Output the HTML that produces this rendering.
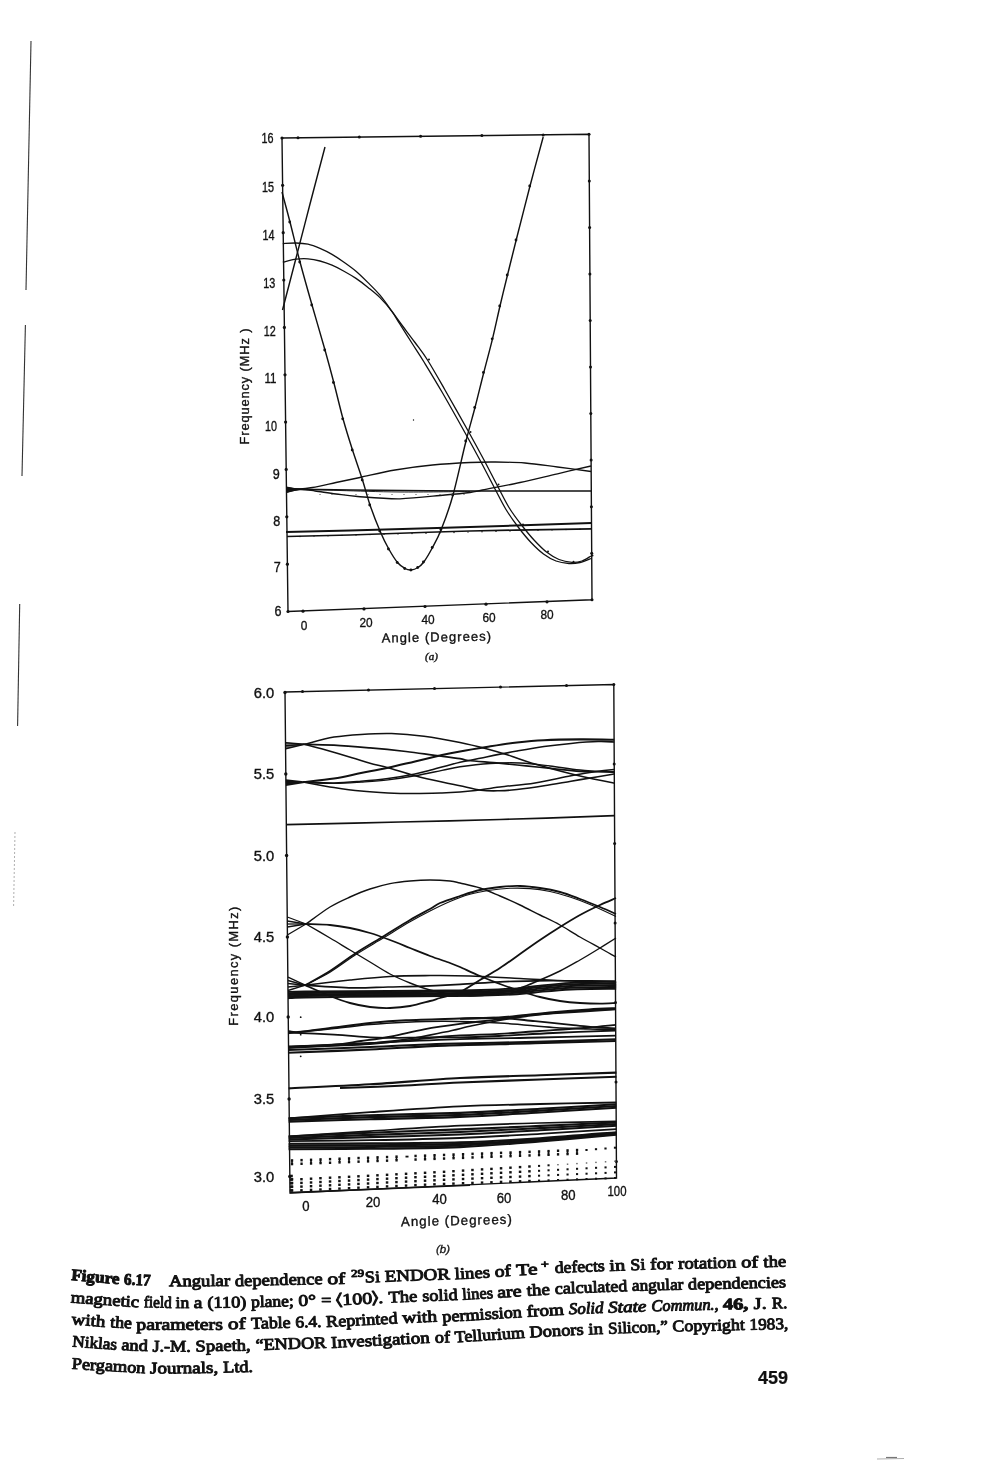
<!DOCTYPE html>
<html><head><meta charset="utf-8"><title>Figure 6.17</title>
<style>
html,body{margin:0;padding:0;background:#fff;}
body{width:1000px;height:1473px;overflow:hidden;}
svg{display:block;filter:grayscale(1) blur(0.3px);}
</style></head><body>
<svg width="1000" height="1473" viewBox="0 0 1000 1473">
<rect width="1000" height="1473" fill="#fff"/>
<line x1="31.0" y1="41.0" x2="26.0" y2="290.0" stroke="#333" stroke-width="1.10" />
<line x1="25.4" y1="325.0" x2="22.0" y2="476.0" stroke="#333" stroke-width="1.10" />
<line x1="19.7" y1="604.0" x2="17.6" y2="726.0" stroke="#333" stroke-width="1.10" />
<line x1="15.0" y1="832.0" x2="13.6" y2="906.0" stroke="#999" stroke-width="0.80" stroke-dasharray="2 2"/>
<line x1="877.0" y1="1459.0" x2="904.0" y2="1458.5" stroke="#999" stroke-width="0.80" />
<line x1="886.0" y1="1457.5" x2="897.0" y2="1457.5" stroke="#777" stroke-width="1.20" />
<polygon points="282.0,138.0 589.0,134.3 592.0,599.8 288.0,611.5" fill="none" stroke="#111" stroke-width="1.4" stroke-linejoin="miter"/>
<circle cx="282.0" cy="138.0" r="1.60" fill="#111"/>
<circle cx="589.0" cy="134.3" r="1.50" fill="#111"/>
<circle cx="282.6" cy="185.3" r="1.60" fill="#111"/>
<circle cx="589.3" cy="180.9" r="1.50" fill="#111"/>
<circle cx="283.2" cy="232.7" r="1.60" fill="#111"/>
<circle cx="589.6" cy="227.4" r="1.50" fill="#111"/>
<circle cx="283.8" cy="280.0" r="1.60" fill="#111"/>
<circle cx="589.9" cy="273.9" r="1.50" fill="#111"/>
<circle cx="284.4" cy="327.4" r="1.60" fill="#111"/>
<circle cx="590.2" cy="320.5" r="1.50" fill="#111"/>
<circle cx="285.0" cy="374.8" r="1.60" fill="#111"/>
<circle cx="590.5" cy="367.0" r="1.50" fill="#111"/>
<circle cx="285.6" cy="422.1" r="1.60" fill="#111"/>
<circle cx="590.8" cy="413.6" r="1.50" fill="#111"/>
<circle cx="286.2" cy="469.4" r="1.60" fill="#111"/>
<circle cx="591.1" cy="460.1" r="1.50" fill="#111"/>
<circle cx="286.8" cy="516.8" r="1.60" fill="#111"/>
<circle cx="591.4" cy="506.7" r="1.50" fill="#111"/>
<circle cx="287.4" cy="564.2" r="1.60" fill="#111"/>
<circle cx="591.7" cy="553.2" r="1.50" fill="#111"/>
<circle cx="288.0" cy="611.5" r="1.60" fill="#111"/>
<circle cx="592.0" cy="599.8" r="1.50" fill="#111"/>
<circle cx="298.0" cy="137.8" r="1.50" fill="#111"/>
<circle cx="303.0" cy="611.2" r="1.60" fill="#111"/>
<circle cx="359.3" cy="137.1" r="1.50" fill="#111"/>
<circle cx="364.0" cy="608.9" r="1.60" fill="#111"/>
<circle cx="420.6" cy="136.3" r="1.50" fill="#111"/>
<circle cx="425.0" cy="606.5" r="1.60" fill="#111"/>
<circle cx="481.9" cy="135.6" r="1.50" fill="#111"/>
<circle cx="486.0" cy="604.2" r="1.60" fill="#111"/>
<circle cx="543.2" cy="134.9" r="1.50" fill="#111"/>
<circle cx="547.0" cy="601.8" r="1.60" fill="#111"/>
<path d="M282.0 192.0C283.3 197.0 287.0 210.3 290.0 222.0C293.0 233.7 296.3 248.2 300.0 262.0C303.7 275.8 307.8 290.3 312.0 305.0C316.2 319.7 321.4 337.1 325.0 350.0C328.6 362.9 330.8 371.0 333.8 382.5C336.8 394.0 339.9 407.5 343.0 418.8C346.1 430.0 349.2 439.8 352.5 450.0C355.8 460.2 359.6 470.8 362.5 480.0C365.4 489.2 367.1 496.5 370.0 505.0C372.9 513.5 376.9 523.7 380.0 531.0C383.1 538.3 385.8 543.8 388.8 549.0C391.7 554.2 394.8 559.2 397.5 562.5C400.2 565.8 402.7 567.2 405.0 568.5C407.3 569.8 409.1 570.2 411.2 570.0C413.4 569.8 415.9 568.8 418.0 567.5C420.1 566.2 421.3 565.3 423.8 562.0C426.2 558.7 429.6 552.9 432.5 547.5C435.4 542.1 437.8 538.2 441.2 529.5C444.7 520.8 448.9 509.8 453.0 495.0C457.1 480.2 462.3 455.6 466.0 441.0C469.7 426.4 472.0 418.9 475.0 407.5C478.0 396.1 480.8 384.0 483.8 372.5C486.7 361.0 489.8 349.8 492.5 338.8C495.2 327.7 497.5 316.6 500.0 306.0C502.5 295.4 504.8 286.0 507.5 275.0C510.2 264.0 512.5 254.8 516.2 240.0C520.0 225.2 525.5 203.2 530.0 186.0C534.5 168.8 541.0 145.2 543.2 137.0" fill="none" stroke="#111" stroke-width="1.43" />
<circle cx="289.7" cy="222.0" r="1.40" fill="#111"/>
<circle cx="299.7" cy="262.0" r="1.40" fill="#111"/>
<circle cx="311.7" cy="305.0" r="1.40" fill="#111"/>
<circle cx="324.7" cy="350.0" r="1.40" fill="#111"/>
<circle cx="333.4" cy="382.5" r="1.40" fill="#111"/>
<circle cx="342.7" cy="418.8" r="1.40" fill="#111"/>
<circle cx="352.2" cy="450.0" r="1.40" fill="#111"/>
<circle cx="362.2" cy="480.0" r="1.40" fill="#111"/>
<circle cx="369.7" cy="505.0" r="1.40" fill="#111"/>
<circle cx="379.7" cy="531.0" r="1.40" fill="#111"/>
<circle cx="388.4" cy="549.0" r="1.40" fill="#111"/>
<circle cx="397.2" cy="562.5" r="1.40" fill="#111"/>
<circle cx="404.7" cy="568.5" r="1.40" fill="#111"/>
<circle cx="410.9" cy="570.0" r="1.40" fill="#111"/>
<circle cx="417.7" cy="567.5" r="1.40" fill="#111"/>
<circle cx="423.4" cy="562.0" r="1.40" fill="#111"/>
<circle cx="432.2" cy="547.5" r="1.40" fill="#111"/>
<circle cx="440.9" cy="529.5" r="1.40" fill="#111"/>
<circle cx="452.7" cy="495.0" r="1.40" fill="#111"/>
<circle cx="465.7" cy="441.0" r="1.40" fill="#111"/>
<circle cx="474.7" cy="407.5" r="1.40" fill="#111"/>
<circle cx="483.4" cy="372.5" r="1.40" fill="#111"/>
<circle cx="492.2" cy="338.8" r="1.40" fill="#111"/>
<circle cx="499.7" cy="306.0" r="1.40" fill="#111"/>
<circle cx="507.2" cy="275.0" r="1.40" fill="#111"/>
<circle cx="516.0" cy="240.0" r="1.40" fill="#111"/>
<circle cx="529.7" cy="186.0" r="1.40" fill="#111"/>
<path d="M282.5 310.0C284.6 302.0 290.4 279.7 295.0 262.0C299.6 244.3 305.0 223.2 310.0 204.0C315.0 184.8 322.5 156.5 325.0 147.0" fill="none" stroke="#111" stroke-width="1.43" />
<path d="M282.8 243.6C285.0 243.5 291.8 242.9 296.0 243.0C300.2 243.1 304.0 243.3 308.0 244.2C312.0 245.1 316.0 246.7 320.0 248.4C324.0 250.1 328.0 252.1 332.0 254.4C336.0 256.7 340.0 259.4 344.0 262.2C348.0 265.0 352.0 267.8 356.0 271.2C360.0 274.6 364.0 278.6 368.0 282.6C372.0 286.6 376.0 290.4 380.0 295.2C384.0 300.0 388.7 306.8 392.0 311.4C395.3 315.9 396.2 317.3 400.0 322.5C403.8 327.7 410.4 336.2 415.0 342.5C419.6 348.8 422.5 352.1 427.5 360.0C432.5 367.9 438.1 377.9 445.0 390.0C451.9 402.1 462.5 420.8 469.0 432.5C475.5 444.2 479.3 451.2 484.0 460.0C488.7 468.8 492.8 477.1 497.0 485.0C501.2 492.9 504.9 500.8 509.0 507.5C513.1 514.2 517.3 519.6 521.5 525.0C525.7 530.4 529.8 535.5 534.0 540.0C538.2 544.5 542.3 548.8 546.5 552.0C550.7 555.2 554.8 557.8 559.0 559.5C563.2 561.2 568.2 562.0 572.0 562.3C575.8 562.5 578.8 562.0 582.0 561.0C585.2 560.0 589.5 556.8 591.0 556.0" fill="none" stroke="#111" stroke-width="1.30" />
<path d="M282.8 262.2C285.0 261.7 291.8 259.8 296.0 259.2C300.2 258.6 304.0 258.5 308.0 258.8C312.0 259.1 316.0 259.9 320.0 261.0C324.0 262.1 328.0 263.5 332.0 265.2C336.0 266.9 340.0 269.0 344.0 271.2C348.0 273.4 352.0 275.7 356.0 278.4C360.0 281.1 364.0 284.2 368.0 287.4C372.0 290.6 376.0 293.6 380.0 297.6C384.0 301.6 388.8 307.3 392.0 311.6C395.2 315.9 396.1 318.1 399.5 323.5C402.9 328.9 408.4 337.6 412.5 344.0C416.6 350.4 419.1 354.0 424.0 362.0C428.9 370.0 435.0 379.9 442.0 392.0C449.0 404.1 459.5 422.8 466.0 434.5C472.5 446.2 476.3 453.2 481.0 462.0C485.7 470.8 489.8 479.1 494.0 487.0C498.2 494.9 501.9 502.8 506.0 509.5C510.1 516.2 514.3 522.0 518.5 527.5C522.7 533.0 526.8 538.1 531.0 542.5C535.2 546.9 539.3 550.9 543.5 554.0C547.7 557.1 551.8 559.4 556.0 561.0C560.2 562.6 565.0 563.2 569.0 563.5C573.0 563.8 576.3 563.3 580.0 562.5C583.7 561.7 589.2 559.2 591.0 558.5" fill="none" stroke="#111" stroke-width="1.30" />
<circle cx="429.0" cy="359.5" r="1.00" fill="#111"/>
<circle cx="470.5" cy="432.0" r="1.00" fill="#111"/>
<circle cx="498.5" cy="484.5" r="1.00" fill="#111"/>
<circle cx="523.0" cy="524.5" r="1.00" fill="#111"/>
<circle cx="548.0" cy="551.5" r="1.00" fill="#111"/>
<circle cx="573.5" cy="561.8" r="1.00" fill="#111"/>
<circle cx="592.5" cy="555.5" r="1.00" fill="#111"/>
<path d="M286.6 488.2C288.8 488.3 295.7 489.1 300.0 489.0C304.3 488.9 306.5 488.6 312.5 487.5C318.5 486.4 328.1 484.2 336.0 482.5C343.9 480.8 350.2 479.6 360.0 477.5C369.8 475.4 382.9 472.1 395.0 470.0C407.1 467.9 420.0 466.2 432.5 465.0C445.0 463.8 459.6 463.0 470.0 462.5C480.4 462.0 485.8 461.9 495.0 462.0C504.2 462.1 514.6 462.2 525.0 463.0C535.4 463.8 546.5 465.6 557.5 467.0C568.5 468.4 585.4 470.8 591.0 471.5" fill="none" stroke="#111" stroke-width="1.30" />
<path d="M286.6 490.3C288.8 490.1 289.4 489.2 300.0 489.2C310.6 489.1 321.7 489.7 350.0 490.0C378.3 490.3 429.8 490.8 470.0 491.0C510.2 491.2 570.8 491.0 591.0 491.0" fill="none" stroke="#111" stroke-width="1.56" />
<path d="M286.6 492.0C288.8 491.6 295.3 489.7 300.0 489.5C304.7 489.3 309.0 490.2 315.0 491.0C321.0 491.8 328.9 493.1 336.0 494.0C343.1 494.9 346.8 495.7 357.5 496.5C368.2 497.3 385.4 499.0 400.0 498.8C414.6 498.5 433.3 496.0 445.0 495.0C456.7 494.0 463.8 493.3 470.0 492.5C476.2 491.7 474.2 491.7 482.5 490.0C490.8 488.3 507.5 485.2 520.0 482.5C532.5 479.8 545.7 476.5 557.5 473.8C569.3 471.0 585.4 467.3 591.0 466.0" fill="none" stroke="#111" stroke-width="1.30" />
<path d="M286.6 487.4C288.8 487.7 291.1 488.5 300.0 489.0C308.9 489.5 323.3 490.0 340.0 490.5C356.7 491.0 378.3 491.8 400.0 492.0C421.7 492.2 458.3 491.6 470.0 491.5" fill="none" stroke="#111" stroke-width="0.91" />
<circle cx="320.0" cy="494.5" r="0.60" fill="#444"/>
<circle cx="332.0" cy="494.5" r="0.60" fill="#444"/>
<circle cx="344.0" cy="494.5" r="0.60" fill="#444"/>
<circle cx="356.0" cy="494.5" r="0.60" fill="#444"/>
<circle cx="368.0" cy="494.5" r="0.60" fill="#444"/>
<circle cx="380.0" cy="494.5" r="0.60" fill="#444"/>
<circle cx="392.0" cy="494.5" r="0.60" fill="#444"/>
<circle cx="404.0" cy="494.5" r="0.60" fill="#444"/>
<circle cx="416.0" cy="494.5" r="0.60" fill="#444"/>
<circle cx="428.0" cy="494.5" r="0.60" fill="#444"/>
<circle cx="440.0" cy="494.5" r="0.60" fill="#444"/>
<circle cx="452.0" cy="494.5" r="0.60" fill="#444"/>
<circle cx="464.0" cy="494.5" r="0.60" fill="#444"/>
<polygon points="286.4,486.6 301,489.2 286.6,493" fill="#111"/>
<path d="M286.0 532.0C296.7 531.8 319.3 531.3 350.0 530.5C380.7 529.7 429.8 528.2 470.0 527.0C510.2 525.8 571.2 523.7 591.5 523.0" fill="none" stroke="#111" stroke-width="1.95" />
<path d="M287.0 536.5C297.5 536.2 319.5 535.9 350.0 535.0C380.5 534.1 429.8 532.0 470.0 531.0C510.2 530.0 571.2 529.2 591.5 528.8" fill="none" stroke="#111" stroke-width="1.69" />
<circle cx="300.0" cy="536.5" r="0.70" fill="#111"/>
<circle cx="314.0" cy="536.1" r="0.70" fill="#111"/>
<circle cx="328.0" cy="535.7" r="0.70" fill="#111"/>
<circle cx="342.0" cy="535.4" r="0.70" fill="#111"/>
<circle cx="356.0" cy="535.0" r="0.70" fill="#111"/>
<circle cx="370.0" cy="534.6" r="0.70" fill="#111"/>
<circle cx="384.0" cy="534.3" r="0.70" fill="#111"/>
<circle cx="398.0" cy="533.9" r="0.70" fill="#111"/>
<circle cx="412.0" cy="533.5" r="0.70" fill="#111"/>
<circle cx="426.0" cy="533.2" r="0.70" fill="#111"/>
<circle cx="440.0" cy="532.8" r="0.70" fill="#111"/>
<circle cx="454.0" cy="532.5" r="0.70" fill="#111"/>
<circle cx="468.0" cy="532.1" r="0.70" fill="#111"/>
<circle cx="482.0" cy="531.7" r="0.70" fill="#111"/>
<circle cx="496.0" cy="531.4" r="0.70" fill="#111"/>
<circle cx="510.0" cy="531.0" r="0.70" fill="#111"/>
<circle cx="524.0" cy="530.6" r="0.70" fill="#111"/>
<circle cx="538.0" cy="530.3" r="0.70" fill="#111"/>
<circle cx="552.0" cy="529.9" r="0.70" fill="#111"/>
<circle cx="566.0" cy="529.5" r="0.70" fill="#111"/>
<circle cx="580.0" cy="529.2" r="0.70" fill="#111"/>
<circle cx="413.5" cy="420.0" r="0.70" fill="#111"/>
<text x="273.4" y="143.1" font-size="14.2" text-anchor="end" font-family="'Liberation Sans', sans-serif" fill="#111" stroke="#111" stroke-width="0.35" textLength="12.0" lengthAdjust="spacingAndGlyphs">16</text>
<text x="274.0" y="192.1" font-size="14.2" text-anchor="end" font-family="'Liberation Sans', sans-serif" fill="#111" stroke="#111" stroke-width="0.35" textLength="12.0" lengthAdjust="spacingAndGlyphs">15</text>
<text x="274.6" y="240.1" font-size="14.2" text-anchor="end" font-family="'Liberation Sans', sans-serif" fill="#111" stroke="#111" stroke-width="0.35" textLength="12.0" lengthAdjust="spacingAndGlyphs">14</text>
<text x="275.2" y="288.1" font-size="14.2" text-anchor="end" font-family="'Liberation Sans', sans-serif" fill="#111" stroke="#111" stroke-width="0.35" textLength="12.0" lengthAdjust="spacingAndGlyphs">13</text>
<text x="275.8" y="335.6" font-size="14.2" text-anchor="end" font-family="'Liberation Sans', sans-serif" fill="#111" stroke="#111" stroke-width="0.35" textLength="12.0" lengthAdjust="spacingAndGlyphs">12</text>
<text x="276.4" y="383.1" font-size="14.2" text-anchor="end" font-family="'Liberation Sans', sans-serif" fill="#111" stroke="#111" stroke-width="0.35" textLength="12.0" lengthAdjust="spacingAndGlyphs">11</text>
<text x="277.0" y="431.1" font-size="14.2" text-anchor="end" font-family="'Liberation Sans', sans-serif" fill="#111" stroke="#111" stroke-width="0.35" textLength="12.0" lengthAdjust="spacingAndGlyphs">10</text>
<text x="279.7" y="479.1" font-size="14.2" text-anchor="end" font-family="'Liberation Sans', sans-serif" fill="#111" stroke="#111" stroke-width="0.35" textLength="7.0" lengthAdjust="spacingAndGlyphs">9</text>
<text x="280.2" y="525.8" font-size="14.2" text-anchor="end" font-family="'Liberation Sans', sans-serif" fill="#111" stroke="#111" stroke-width="0.35" textLength="7.0" lengthAdjust="spacingAndGlyphs">8</text>
<text x="280.8" y="571.7" font-size="14.2" text-anchor="end" font-family="'Liberation Sans', sans-serif" fill="#111" stroke="#111" stroke-width="0.35" textLength="7.0" lengthAdjust="spacingAndGlyphs">7</text>
<text x="281.4" y="616.1" font-size="14.2" text-anchor="end" font-family="'Liberation Sans', sans-serif" fill="#111" stroke="#111" stroke-width="0.35" textLength="7.0" lengthAdjust="spacingAndGlyphs">6</text>
<text x="304.0" y="630.0" font-size="13.5" text-anchor="middle" font-family="'Liberation Sans', sans-serif" fill="#111" stroke="#111" stroke-width="0.35" textLength="6.6" lengthAdjust="spacingAndGlyphs">0</text>
<text x="366.0" y="626.5" font-size="13.5" text-anchor="middle" font-family="'Liberation Sans', sans-serif" fill="#111" stroke="#111" stroke-width="0.35" textLength="13.2" lengthAdjust="spacingAndGlyphs">20</text>
<text x="428.0" y="624.0" font-size="13.5" text-anchor="middle" font-family="'Liberation Sans', sans-serif" fill="#111" stroke="#111" stroke-width="0.35" textLength="13.2" lengthAdjust="spacingAndGlyphs">40</text>
<text x="489.0" y="621.5" font-size="13.5" text-anchor="middle" font-family="'Liberation Sans', sans-serif" fill="#111" stroke="#111" stroke-width="0.35" textLength="13.2" lengthAdjust="spacingAndGlyphs">60</text>
<text x="547.0" y="619.0" font-size="13.5" text-anchor="middle" font-family="'Liberation Sans', sans-serif" fill="#111" stroke="#111" stroke-width="0.35" textLength="13.2" lengthAdjust="spacingAndGlyphs">80</text>
<text x="0.0" y="0.0" font-size="12.8" text-anchor="middle" font-family="'Liberation Sans', sans-serif" fill="#111" stroke="#111" stroke-width="0.35" transform="translate(249,386) rotate(-90)" letter-spacing="0.9">Frequency (MHz )</text>
<text x="437.0" y="641.5" font-size="13.0" text-anchor="middle" font-family="'Liberation Sans', sans-serif" fill="#111" stroke="#111" stroke-width="0.35" transform="rotate(-1 437 640)" letter-spacing="1.05">Angle (Degrees)</text>
<text x="431.5" y="659.5" font-size="11.0" text-anchor="middle" font-family="'Liberation Serif', serif" fill="#111" stroke="#111" stroke-width="0.40" font-style="italic">(a)</text>
<polygon points="285.0,692.0 613.8,684.5 616.5,1178.0 290.0,1193.0" fill="none" stroke="#111" stroke-width="1.4" stroke-linejoin="miter"/>
<circle cx="285.0" cy="692.5" r="1.70" fill="#111"/>
<circle cx="613.8" cy="684.5" r="1.50" fill="#111"/>
<circle cx="285.8" cy="774.0" r="1.70" fill="#111"/>
<circle cx="614.2" cy="764.0" r="1.50" fill="#111"/>
<circle cx="286.6" cy="855.5" r="1.70" fill="#111"/>
<circle cx="614.6" cy="843.5" r="1.50" fill="#111"/>
<circle cx="287.4" cy="937.0" r="1.70" fill="#111"/>
<circle cx="615.1" cy="923.0" r="1.50" fill="#111"/>
<circle cx="288.2" cy="1017.0" r="1.70" fill="#111"/>
<circle cx="615.5" cy="1002.5" r="1.50" fill="#111"/>
<circle cx="289.1" cy="1099.0" r="1.70" fill="#111"/>
<circle cx="616.0" cy="1082.0" r="1.50" fill="#111"/>
<circle cx="289.8" cy="1176.5" r="1.70" fill="#111"/>
<circle cx="616.4" cy="1161.5" r="1.50" fill="#111"/>
<circle cx="302.5" cy="691.6" r="1.50" fill="#111"/>
<circle cx="368.5" cy="690.1" r="1.50" fill="#111"/>
<circle cx="434.5" cy="688.6" r="1.50" fill="#111"/>
<circle cx="500.5" cy="687.1" r="1.50" fill="#111"/>
<circle cx="566.5" cy="685.6" r="1.50" fill="#111"/>
<polygon points="285.7,742.3 304.3,744.3 285.8,748.8" fill="#111" opacity="0.55"/>
<line x1="285.7" y1="742.8" x2="304.3" y2="744.3" stroke="#111" stroke-width="1.40" />
<line x1="285.7" y1="745.8" x2="304.3" y2="744.3" stroke="#111" stroke-width="1.40" />
<line x1="285.7" y1="748.8" x2="304.3" y2="744.3" stroke="#111" stroke-width="1.40" />
<polygon points="285.8,779.2 306,781.6 306,782.8 285.9,786" fill="#111"/>
<path d="M304.3 744.3C309.2 743.1 324.6 738.8 334.0 737.1C343.4 735.5 351.4 735.0 361.0 734.4C370.6 733.8 381.1 733.2 391.6 733.5C402.1 733.8 412.6 734.7 424.0 736.2C435.4 737.7 449.6 740.4 460.0 742.5C470.4 744.6 478.4 746.7 486.4 748.8C494.4 750.9 499.9 752.5 508.0 755.1C516.1 757.7 526.0 761.4 535.0 764.1C544.0 766.8 553.0 769.2 562.0 771.5C571.0 773.8 580.3 776.1 589.0 778.0C597.7 779.9 610.0 782.2 614.2 783.0" fill="none" stroke="#111" stroke-width="1.54" />
<path d="M304.3 744.3C309.2 744.4 323.1 744.6 334.0 745.2C344.9 745.8 358.0 746.9 370.0 747.9C382.0 748.9 395.5 750.3 406.0 751.5C416.5 752.7 424.0 753.9 433.0 755.1C442.0 756.3 454.1 757.8 460.0 758.7C465.9 759.6 461.9 759.8 468.4 760.5C474.9 761.2 489.4 762.3 499.0 763.2C508.6 764.1 517.0 765.0 526.0 765.9C535.0 766.8 544.0 767.7 553.0 768.6C562.0 769.5 569.8 770.8 580.0 771.3C590.2 771.8 608.5 771.7 614.2 771.8" fill="none" stroke="#111" stroke-width="1.68" />
<path d="M304.3 744.3C307.8 745.2 317.1 747.5 325.0 749.7C332.9 752.0 344.5 755.5 352.0 757.8C359.5 760.0 364.0 761.6 370.0 763.2C376.0 764.9 380.5 765.6 388.0 767.7C395.5 769.8 406.0 773.4 415.0 775.8C424.0 778.2 434.5 780.5 442.0 782.1C449.5 783.8 453.5 784.4 460.0 785.7C466.5 787.1 474.5 789.4 481.0 790.2C487.5 791.1 493.0 790.9 499.0 790.8C505.0 790.7 509.5 790.4 517.0 789.5C524.5 788.6 535.0 787.1 544.0 785.7C553.0 784.3 562.0 782.7 571.0 781.2C580.0 779.7 590.8 777.9 598.0 776.7C605.2 775.5 611.5 774.5 614.2 774.0" fill="none" stroke="#111" stroke-width="1.54" />
<path d="M303.4 782.1C308.5 781.5 324.4 780.0 334.0 778.5C343.6 777.0 352.0 774.9 361.0 773.1C370.0 771.3 379.0 769.7 388.0 767.7C397.0 765.8 406.0 763.5 415.0 761.4C424.0 759.3 434.5 756.8 442.0 755.1C449.5 753.5 452.6 752.9 460.0 751.5C467.4 750.1 476.9 748.5 486.4 747.0C495.9 745.5 507.4 743.6 517.0 742.5C526.6 741.4 533.5 740.7 544.0 740.2C554.5 739.7 568.3 739.5 580.0 739.4C591.7 739.3 608.5 739.7 614.2 739.8" fill="none" stroke="#111" stroke-width="2.06" />
<path d="M303.4 782.1C308.5 782.2 324.4 783.1 334.0 783.0C343.6 782.9 352.0 782.0 361.0 781.2C370.0 780.5 379.0 779.7 388.0 778.5C397.0 777.3 407.5 775.5 415.0 774.0C422.5 772.5 425.5 771.5 433.0 769.5C440.5 767.5 451.1 764.4 460.0 762.3C468.9 760.2 476.9 758.8 486.4 756.9C495.9 755.0 507.4 752.7 517.0 751.0C526.6 749.3 535.0 747.8 544.0 746.5C553.0 745.2 562.0 744.2 571.0 743.4C580.0 742.6 590.8 741.8 598.0 741.6C605.2 741.4 611.5 741.9 614.2 742.0" fill="none" stroke="#111" stroke-width="1.54" />
<path d="M303.4 782.1C308.5 782.3 324.4 783.4 334.0 783.4C343.6 783.4 352.0 782.7 361.0 782.1C370.0 781.5 379.0 781.0 388.0 779.9C397.0 778.8 406.0 777.4 415.0 775.8C424.0 774.2 434.5 771.9 442.0 770.4C449.5 768.9 452.0 767.9 460.0 766.8C468.0 765.6 480.0 764.1 490.0 763.5C500.0 762.9 510.0 762.6 520.0 763.0C530.0 763.4 540.0 764.8 550.0 766.0C560.0 767.2 569.3 768.9 580.0 770.0C590.7 771.1 608.5 772.1 614.2 772.5" fill="none" stroke="#111" stroke-width="1.40" />
<path d="M303.4 782.1C308.5 783.0 324.4 786.0 334.0 787.5C343.6 789.0 352.0 790.2 361.0 791.1C370.0 792.0 379.0 792.5 388.0 792.9C397.0 793.3 406.0 793.4 415.0 793.4C424.0 793.4 434.5 793.1 442.0 792.9C449.5 792.7 454.4 792.4 460.0 792.0C465.6 791.6 468.9 791.3 475.6 790.5C482.3 789.7 490.1 788.2 500.0 787.0C509.9 785.8 523.2 784.9 535.0 783.0C546.8 781.1 560.5 777.8 571.0 775.8C581.5 773.8 590.8 772.3 598.0 771.3C605.2 770.2 611.5 769.8 614.2 769.5" fill="none" stroke="#111" stroke-width="1.54" />
<path d="M286.0 824.6C305.0 824.2 364.3 822.9 400.0 822.0C435.7 821.1 464.2 820.5 500.0 819.5C535.8 818.5 595.4 816.3 614.5 815.7" fill="none" stroke="#111" stroke-width="1.68" />
<line x1="287.3" y1="917.0" x2="306.0" y2="924.0" stroke="#111" stroke-width="1.30" />
<line x1="287.3" y1="921.0" x2="306.0" y2="924.0" stroke="#111" stroke-width="1.30" />
<line x1="287.3" y1="924.0" x2="306.0" y2="924.0" stroke="#111" stroke-width="1.30" />
<line x1="287.3" y1="927.0" x2="306.0" y2="924.0" stroke="#111" stroke-width="1.30" />
<line x1="287.3" y1="935.0" x2="306.0" y2="924.0" stroke="#111" stroke-width="1.30" />
<line x1="288.0" y1="977.1" x2="305.2" y2="985.2" stroke="#111" stroke-width="1.40" />
<line x1="288.0" y1="980.5" x2="305.2" y2="985.2" stroke="#111" stroke-width="1.40" />
<line x1="288.0" y1="983.5" x2="305.2" y2="985.2" stroke="#111" stroke-width="1.40" />
<line x1="288.0" y1="987.0" x2="305.2" y2="985.2" stroke="#111" stroke-width="1.40" />
<line x1="288.0" y1="990.5" x2="305.2" y2="985.2" stroke="#111" stroke-width="1.40" />
<path d="M306.0 924.0C310.0 921.2 322.7 911.5 330.0 907.0C337.3 902.5 343.3 900.0 350.0 897.0C356.7 894.0 363.3 891.2 370.0 889.0C376.7 886.8 383.3 884.9 390.0 883.6C396.7 882.3 403.3 881.6 410.0 881.0C416.7 880.4 423.3 880.0 430.0 880.0C436.7 880.0 445.0 880.5 450.0 881.0C455.0 881.5 455.0 881.8 460.0 883.0C465.0 884.2 473.3 885.8 480.0 888.0C486.7 890.2 493.3 893.2 500.0 896.0C506.7 898.8 513.3 901.8 520.0 905.0C526.7 908.2 533.3 911.7 540.0 915.0C546.7 918.3 553.3 921.3 560.0 925.0C566.7 928.7 573.3 933.2 580.0 937.0C586.7 940.8 594.0 944.7 600.0 948.0C606.0 951.3 613.3 955.5 616.0 957.0" fill="none" stroke="#111" stroke-width="1.40" />
<path d="M306.0 924.0C310.0 924.2 322.7 924.3 330.0 925.0C337.3 925.7 343.3 926.7 350.0 928.0C356.7 929.3 363.3 931.0 370.0 933.0C376.7 935.0 383.3 937.5 390.0 940.0C396.7 942.5 403.3 945.3 410.0 948.0C416.7 950.7 423.3 953.5 430.0 956.0C436.7 958.5 445.0 961.2 450.0 963.0C455.0 964.8 455.0 964.8 460.0 967.0C465.0 969.2 473.3 973.2 480.0 976.0C486.7 978.8 493.3 981.5 500.0 984.0C506.7 986.5 513.3 988.8 520.0 991.0C526.7 993.2 533.3 995.3 540.0 997.0C546.7 998.7 553.3 1000.0 560.0 1001.0C566.7 1002.0 573.3 1002.6 580.0 1003.0C586.7 1003.4 594.0 1003.6 600.0 1003.6C606.0 1003.6 613.3 1003.1 616.0 1003.0" fill="none" stroke="#111" stroke-width="1.82" />
<path d="M306.0 924.0C310.0 926.3 322.7 933.7 330.0 938.0C337.3 942.3 343.3 946.0 350.0 950.0C356.7 954.0 363.3 958.0 370.0 962.0C376.7 966.0 383.3 970.5 390.0 974.0C396.7 977.5 403.3 980.3 410.0 983.0C416.7 985.7 423.3 988.2 430.0 990.0C436.7 991.8 443.3 993.0 450.0 994.0C456.7 995.0 462.5 996.0 470.0 996.0C477.5 996.0 486.7 995.3 495.0 994.0C503.3 992.7 512.5 990.3 520.0 988.0C527.5 985.7 533.3 982.8 540.0 980.0C546.7 977.2 553.3 974.3 560.0 971.0C566.7 967.7 573.3 963.8 580.0 960.0C586.7 956.2 594.0 951.7 600.0 948.0C606.0 944.3 613.3 939.7 616.0 938.0" fill="none" stroke="#111" stroke-width="1.40" />
<path d="M305.2 985.2C309.3 982.8 321.5 976.4 330.0 971.0C338.5 965.6 347.0 958.8 356.0 953.0C365.0 947.2 375.0 941.5 384.0 936.0C393.0 930.5 402.3 924.5 410.0 920.0C417.7 915.5 425.0 911.8 430.0 909.0C435.0 906.2 435.0 905.2 440.0 903.0C445.0 900.8 453.3 898.2 460.0 896.0C466.7 893.8 473.3 891.5 480.0 890.0C486.7 888.5 493.3 887.7 500.0 887.0C506.7 886.3 513.3 885.8 520.0 886.0C526.7 886.2 533.3 887.0 540.0 888.0C546.7 889.0 553.3 890.2 560.0 892.0C566.7 893.8 573.3 896.5 580.0 899.0C586.7 901.5 594.0 904.5 600.0 907.0C606.0 909.5 613.3 912.8 616.0 914.0" fill="none" stroke="#111" stroke-width="1.82" />
<path d="M305.2 985.2C309.3 983.0 321.5 977.3 330.0 972.2C338.5 967.1 347.0 960.3 356.0 954.5C365.0 948.7 375.0 943.1 384.0 937.6C393.0 932.1 402.3 926.2 410.0 921.8C417.7 917.4 423.3 914.4 430.0 911.0C436.7 907.6 443.3 904.3 450.0 901.5C456.7 898.7 463.3 896.2 470.0 894.3C476.7 892.4 483.3 891.3 490.0 890.3C496.7 889.3 503.3 888.6 510.0 888.3C516.7 888.0 523.3 888.1 530.0 888.6C536.7 889.1 543.3 890.1 550.0 891.5C556.7 892.9 563.3 894.8 570.0 897.0C576.7 899.2 582.3 901.2 590.0 904.5C597.7 907.8 611.7 914.5 616.0 916.5" fill="none" stroke="#111" stroke-width="1.12" />
<path d="M305.2 985.2C309.3 987.0 322.5 993.0 330.0 996.0C337.5 999.0 343.3 1001.2 350.0 1003.0C356.7 1004.8 363.3 1006.2 370.0 1007.0C376.7 1007.8 383.3 1008.2 390.0 1008.0C396.7 1007.8 403.3 1007.2 410.0 1006.0C416.7 1004.8 425.0 1002.3 430.0 1001.0C435.0 999.7 435.0 999.5 440.0 998.0C445.0 996.5 453.3 995.0 460.0 992.0C466.7 989.0 473.3 984.0 480.0 980.0C486.7 976.0 493.3 972.3 500.0 968.0C506.7 963.7 513.3 958.7 520.0 954.0C526.7 949.3 533.3 944.5 540.0 940.0C546.7 935.5 553.3 931.2 560.0 927.0C566.7 922.8 573.3 918.7 580.0 915.0C586.7 911.3 594.0 907.8 600.0 905.0C606.0 902.2 613.3 899.2 616.0 898.0" fill="none" stroke="#111" stroke-width="1.82" />
<path d="M305.2 985.2C312.7 984.3 335.9 981.5 350.0 980.0C364.1 978.5 376.7 977.1 390.0 976.4C403.3 975.7 416.7 975.7 430.0 975.6C443.3 975.5 455.0 975.5 470.0 976.0C485.0 976.5 503.3 977.7 520.0 978.5C536.7 979.3 554.0 980.4 570.0 981.0C586.0 981.6 608.3 981.8 616.0 982.0" fill="none" stroke="#111" stroke-width="1.54" />
<path d="M305.2 985.2C313.0 985.7 338.2 987.6 352.0 987.9C365.8 988.2 376.0 987.3 388.0 987.0C400.0 986.7 412.0 986.6 424.0 986.1C436.0 985.6 447.3 985.0 460.0 984.3C472.7 983.6 487.5 982.4 500.0 981.8C512.5 981.2 521.7 981.0 535.0 980.8C548.3 980.6 566.5 980.8 580.0 980.8C593.5 980.8 610.0 981.0 616.0 981.0" fill="none" stroke="#111" stroke-width="1.68" />
<path d="M288.0 992.0C290.8 991.9 288.3 991.7 305.0 991.5C321.7 991.4 364.7 991.1 388.0 991.0C411.3 990.8 429.5 990.6 445.0 990.5C460.5 990.3 469.0 990.3 481.0 990.0C493.0 989.6 508.0 989.0 517.0 988.3C526.0 987.7 526.0 987.1 535.0 986.2C544.0 985.3 557.5 983.6 571.0 982.9C584.5 982.1 608.7 982.0 616.2 981.8" fill="none" stroke="#111" stroke-width="1.82" />
<path d="M288.0 993.4C290.8 993.3 288.3 993.1 305.0 992.9C321.7 992.7 364.7 992.4 388.0 992.2C411.3 992.0 429.5 991.9 445.0 991.7C460.5 991.6 469.0 991.6 481.0 991.2C493.0 990.9 508.0 990.3 517.0 989.7C526.0 989.1 526.0 988.5 535.0 987.6C544.0 986.7 557.5 985.0 571.0 984.3C584.5 983.6 608.7 983.5 616.2 983.4" fill="none" stroke="#111" stroke-width="2.06" />
<path d="M288.0 995.0C290.8 994.9 288.3 994.6 305.0 994.4C321.7 994.2 364.7 993.9 388.0 993.7C411.3 993.5 429.5 993.3 445.0 993.2C460.5 993.0 469.0 993.0 481.0 992.7C493.0 992.3 508.0 991.8 517.0 991.2C526.0 990.6 526.0 990.1 535.0 989.2C544.0 988.3 557.5 986.7 571.0 986.0C584.5 985.3 608.7 985.3 616.2 985.1" fill="none" stroke="#111" stroke-width="2.06" />
<path d="M288.0 996.6C290.8 996.5 288.3 996.1 305.0 995.9C321.7 995.6 364.7 995.3 388.0 995.1C411.3 994.9 429.5 994.8 445.0 994.6C460.5 994.4 469.0 994.4 481.0 994.1C493.0 993.8 508.0 993.2 517.0 992.7C526.0 992.1 526.0 991.6 535.0 990.8C544.0 990.0 557.5 988.4 571.0 987.7C584.5 987.1 608.7 987.0 616.2 986.9" fill="none" stroke="#111" stroke-width="2.06" />
<path d="M288.0 998.2C290.8 998.1 288.3 997.7 305.0 997.4C321.7 997.1 364.7 996.8 388.0 996.5C411.3 996.3 429.5 996.2 445.0 996.0C460.5 995.9 469.0 995.8 481.0 995.5C493.0 995.2 508.0 994.7 517.0 994.2C526.0 993.7 526.0 993.2 535.0 992.4C544.0 991.6 557.5 990.0 571.0 989.4C584.5 988.8 608.7 988.8 616.2 988.7" fill="none" stroke="#111" stroke-width="1.96" />
<polygon points="288.2,1030.2 300,1032 288.3,1034.2" fill="#111"/>
<path d="M288.0 1031.5C289.7 1031.6 290.3 1032.7 298.0 1032.0C305.7 1031.3 322.0 1029.0 334.0 1027.5C346.0 1026.0 358.0 1024.2 370.0 1023.0C382.0 1021.8 391.0 1021.0 406.0 1020.3C421.0 1019.5 444.5 1019.0 460.0 1018.5C475.5 1018.0 488.0 1018.2 499.0 1017.6C510.0 1017.0 517.0 1015.9 526.0 1015.0C535.0 1014.1 542.5 1013.1 553.0 1012.2C563.5 1011.3 578.5 1010.2 589.0 1009.5C599.5 1008.8 611.5 1008.4 616.0 1008.2" fill="none" stroke="#111" stroke-width="2.06" />
<path d="M298.0 1032.0C304.0 1031.4 322.0 1029.8 334.0 1028.6C346.0 1027.4 358.0 1025.7 370.0 1024.6C382.0 1023.5 393.5 1022.8 406.0 1022.2C418.5 1021.6 429.5 1021.1 445.0 1021.2C460.5 1021.3 481.0 1022.0 499.0 1023.0C517.0 1024.0 538.0 1026.5 553.0 1027.5C568.0 1028.5 578.5 1028.7 589.0 1029.0C599.5 1029.3 611.5 1029.2 616.0 1029.3" fill="none" stroke="#111" stroke-width="1.54" />
<path d="M288.0 1032.5C295.7 1032.9 320.3 1033.9 334.0 1034.7C347.7 1035.5 360.4 1036.9 370.0 1037.4C379.6 1037.9 382.6 1037.8 391.6 1037.8C400.6 1037.8 412.6 1037.5 424.0 1037.4C435.4 1037.3 447.5 1037.6 460.0 1037.4C472.5 1037.2 483.5 1036.7 499.0 1036.0C514.5 1035.3 533.5 1033.9 553.0 1033.0C572.5 1032.1 605.5 1030.9 616.0 1030.5" fill="none" stroke="#111" stroke-width="1.82" />
<path d="M288.0 1046.4C295.7 1046.1 321.8 1045.5 334.0 1044.6C346.2 1043.7 351.4 1042.3 361.0 1041.0C370.6 1039.7 381.1 1038.5 391.6 1036.5C402.1 1034.5 412.6 1031.4 424.0 1029.3C435.4 1027.2 447.5 1025.5 460.0 1023.9C472.5 1022.2 488.0 1020.8 499.0 1019.4C510.0 1018.0 517.0 1016.7 526.0 1015.6C535.0 1014.5 542.5 1013.9 553.0 1013.0C563.5 1012.1 578.5 1011.1 589.0 1010.4C599.5 1009.7 611.5 1009.2 616.0 1009.0" fill="none" stroke="#111" stroke-width="1.82" />
<path d="M288.0 1048.2C298.7 1047.6 332.3 1046.1 352.0 1044.6C371.7 1043.1 390.5 1041.3 406.0 1039.2C421.5 1037.1 434.0 1034.2 445.0 1032.0C456.0 1029.8 463.0 1027.6 472.0 1025.7C481.0 1023.8 490.0 1022.0 499.0 1020.4C508.0 1018.8 517.0 1017.5 526.0 1016.4C535.0 1015.3 538.0 1014.7 553.0 1013.6C568.0 1012.5 605.5 1010.3 616.0 1009.6" fill="none" stroke="#111" stroke-width="1.54" />
<path d="M460.0 1018.8C466.5 1018.6 486.5 1017.4 499.0 1017.8C511.5 1018.2 523.0 1020.0 535.0 1021.2C547.0 1022.4 560.5 1023.8 571.0 1024.8C581.5 1025.8 590.5 1026.9 598.0 1027.5C605.5 1028.1 613.0 1028.2 616.0 1028.4" fill="none" stroke="#111" stroke-width="1.82" />
<path d="M288.0 1047.0C301.7 1046.5 343.8 1045.8 370.0 1044.0C396.2 1042.2 423.5 1038.2 445.0 1036.5C466.5 1034.8 481.0 1034.8 499.0 1033.8C517.0 1032.8 538.0 1031.2 553.0 1030.2C568.0 1029.2 578.5 1028.4 589.0 1027.5C599.5 1026.6 611.5 1025.2 616.0 1024.8" fill="none" stroke="#111" stroke-width="1.82" />
<path d="M288.0 1046.8C301.7 1046.2 341.3 1044.3 370.0 1043.0C398.7 1041.7 431.7 1040.1 460.0 1039.2C488.3 1038.3 514.0 1038.1 540.0 1037.5C566.0 1036.9 603.3 1035.9 616.0 1035.6" fill="none" stroke="#111" stroke-width="1.82" />
<path d="M288.0 1050.0C301.7 1049.5 343.8 1048.0 370.0 1047.0C396.2 1046.0 417.5 1044.5 445.0 1043.7C472.5 1042.9 506.5 1042.7 535.0 1041.9C563.5 1041.2 602.5 1039.7 616.0 1039.2" fill="none" stroke="#111" stroke-width="2.06" />
<path d="M288.0 1052.7C301.7 1052.2 343.8 1050.7 370.0 1049.5C396.2 1048.3 417.5 1046.6 445.0 1045.6C472.5 1044.6 506.5 1044.1 535.0 1043.3C563.5 1042.5 602.5 1041.4 616.0 1041.0" fill="none" stroke="#111" stroke-width="2.10" />
<circle cx="300.7" cy="1017.2" r="0.90" fill="#111"/>
<circle cx="300.7" cy="1034.7" r="0.90" fill="#111"/>
<circle cx="300.7" cy="1056.3" r="0.90" fill="#111"/>
<path d="M288.6 1088.4C302.2 1087.7 341.4 1086.0 370.0 1084.3C398.6 1082.6 431.7 1079.5 460.0 1078.0C488.3 1076.5 513.9 1076.2 540.0 1075.3C566.1 1074.4 603.7 1073.0 616.4 1072.6" fill="none" stroke="#111" stroke-width="2.06" />
<path d="M340.0 1088.0C350.0 1087.6 380.0 1086.7 400.0 1085.8C420.0 1084.9 436.7 1083.5 460.0 1082.5C483.3 1081.5 513.9 1080.5 540.0 1079.5C566.1 1078.5 603.7 1077.2 616.4 1076.8" fill="none" stroke="#111" stroke-width="2.10" />
<path d="M288.6 1118.3C302.2 1117.3 341.4 1114.2 370.0 1112.2C398.6 1110.2 431.7 1107.8 460.0 1106.4C488.3 1105.0 513.9 1104.7 540.0 1104.0C566.1 1103.3 603.7 1102.8 616.4 1102.5" fill="none" stroke="#111" stroke-width="1.82" />
<path d="M288.6 1118.2C302.2 1117.7 341.4 1116.1 370.0 1115.2C398.6 1114.3 431.7 1113.9 460.0 1112.9C488.3 1111.8 513.9 1110.2 540.0 1108.7C566.1 1107.3 603.7 1105.0 616.4 1104.3" fill="none" stroke="#111" stroke-width="2.06" />
<path d="M288.6 1119.9C302.2 1119.5 341.4 1118.0 370.0 1117.2C398.6 1116.4 431.7 1116.0 460.0 1114.9C488.3 1113.8 513.9 1112.1 540.0 1110.6C566.1 1109.1 603.7 1106.8 616.4 1106.0" fill="none" stroke="#111" stroke-width="2.21" />
<path d="M288.6 1121.6C302.2 1121.2 341.4 1120.0 370.0 1119.2C398.6 1118.5 431.7 1118.1 460.0 1116.9C488.3 1115.8 513.9 1114.0 540.0 1112.5C566.1 1110.9 603.7 1108.5 616.4 1107.7" fill="none" stroke="#111" stroke-width="2.06" />
<path d="M288.6 1136.3C302.2 1135.4 341.4 1132.9 370.0 1131.1C398.6 1129.3 431.7 1127.0 460.0 1125.7C488.3 1124.4 513.9 1123.7 540.0 1123.0C566.1 1122.3 603.7 1121.6 616.4 1121.3" fill="none" stroke="#111" stroke-width="1.68" />
<path d="M288.6 1136.5C302.2 1135.8 341.4 1133.9 370.0 1132.7C398.6 1131.5 431.7 1130.5 460.0 1129.4C488.3 1128.3 513.9 1127.1 540.0 1125.9C566.1 1124.8 603.7 1123.0 616.4 1122.4" fill="none" stroke="#111" stroke-width="2.06" />
<path d="M288.6 1138.0C302.2 1137.5 341.4 1135.9 370.0 1134.9C398.6 1133.9 431.7 1133.1 460.0 1132.0C488.3 1130.8 513.9 1129.4 540.0 1128.1C566.1 1126.8 603.7 1124.8 616.4 1124.1" fill="none" stroke="#111" stroke-width="2.06" />
<path d="M288.6 1139.5C302.2 1139.1 341.4 1138.0 370.0 1137.1C398.6 1136.3 431.7 1135.6 460.0 1134.5C488.3 1133.4 513.9 1131.8 540.0 1130.3C566.1 1128.9 603.7 1126.6 616.4 1125.8" fill="none" stroke="#111" stroke-width="2.10" />
<path d="M288.6 1141.2C302.2 1141.0 341.4 1140.7 370.0 1140.2C398.6 1139.7 431.7 1139.1 460.0 1138.0C488.3 1136.9 513.9 1135.3 540.0 1133.8C566.1 1132.3 603.7 1130.0 616.4 1129.2" fill="none" stroke="#111" stroke-width="1.82" />
<path d="M288.6 1143.8C302.2 1143.7 341.4 1143.7 370.0 1143.4C398.6 1143.1 431.7 1143.1 460.0 1142.3C488.3 1141.4 513.9 1139.9 540.0 1138.2C566.1 1136.6 603.7 1133.2 616.4 1132.2" fill="none" stroke="#111" stroke-width="2.06" />
<path d="M288.6 1145.6C302.2 1145.5 341.4 1145.5 370.0 1145.2C398.6 1144.9 431.7 1144.9 460.0 1143.9C488.3 1142.9 513.9 1141.1 540.0 1139.3C566.1 1137.5 603.7 1134.1 616.4 1133.0" fill="none" stroke="#111" stroke-width="2.06" />
<path d="M288.6 1147.4C302.2 1147.3 341.4 1147.3 370.0 1147.0C398.6 1146.7 431.7 1146.6 460.0 1145.5C488.3 1144.4 513.9 1142.3 540.0 1140.4C566.1 1138.5 603.7 1134.9 616.4 1133.9" fill="none" stroke="#111" stroke-width="2.06" />
<path d="M288.6 1149.2C302.2 1149.1 341.4 1149.1 370.0 1148.8C398.6 1148.5 431.7 1148.3 460.0 1147.1C488.3 1145.9 513.9 1143.6 540.0 1141.5C566.1 1139.4 603.7 1135.8 616.4 1134.7" fill="none" stroke="#111" stroke-width="2.06" />
<rect x="290.9" y="1159.2" width="2.3" height="2.5" fill="#111"/>
<rect x="290.9" y="1162.8" width="2.3" height="2.5" fill="#111"/>
<rect x="291.2" y="1160.8" width="1.6" height="3.0" fill="#111"/>
<rect x="290.8" y="1189.2" width="2.5" height="2.4" fill="#111"/>
<rect x="290.8" y="1185.5" width="2.5" height="2.4" fill="#111"/>
<rect x="290.8" y="1181.8" width="2.5" height="2.4" fill="#111"/>
<rect x="290.8" y="1178.1" width="2.5" height="2.4" fill="#111"/>
<rect x="300.4" y="1158.9" width="2.3" height="2.5" fill="#111"/>
<rect x="300.4" y="1162.5" width="2.3" height="2.5" fill="#111"/>
<rect x="300.2" y="1189.1" width="2.5" height="2.4" fill="#111"/>
<rect x="300.2" y="1185.4" width="2.5" height="2.4" fill="#111"/>
<rect x="300.2" y="1181.7" width="2.5" height="2.4" fill="#111"/>
<rect x="300.2" y="1178.0" width="2.5" height="2.4" fill="#111"/>
<rect x="309.9" y="1158.6" width="2.3" height="2.5" fill="#111"/>
<rect x="309.9" y="1162.2" width="2.3" height="2.5" fill="#111"/>
<rect x="310.2" y="1160.1" width="1.6" height="3.0" fill="#111"/>
<rect x="309.8" y="1188.7" width="2.5" height="2.4" fill="#111"/>
<rect x="309.8" y="1185.0" width="2.5" height="2.4" fill="#111"/>
<rect x="309.8" y="1181.3" width="2.5" height="2.4" fill="#111"/>
<rect x="309.8" y="1177.5" width="2.5" height="2.4" fill="#111"/>
<rect x="319.4" y="1158.2" width="2.3" height="2.5" fill="#111"/>
<rect x="319.4" y="1161.8" width="2.3" height="2.5" fill="#111"/>
<rect x="319.7" y="1159.8" width="1.6" height="3.0" fill="#111"/>
<rect x="319.2" y="1188.3" width="2.5" height="2.4" fill="#111"/>
<rect x="319.2" y="1184.5" width="2.5" height="2.4" fill="#111"/>
<rect x="319.2" y="1180.8" width="2.5" height="2.4" fill="#111"/>
<rect x="319.2" y="1177.0" width="2.5" height="2.4" fill="#111"/>
<rect x="328.9" y="1157.9" width="2.3" height="2.5" fill="#111"/>
<rect x="328.9" y="1161.5" width="2.3" height="2.5" fill="#111"/>
<rect x="328.8" y="1187.8" width="2.5" height="2.4" fill="#111"/>
<rect x="328.8" y="1184.1" width="2.5" height="2.4" fill="#111"/>
<rect x="328.8" y="1180.3" width="2.5" height="2.4" fill="#111"/>
<rect x="328.8" y="1176.5" width="2.5" height="2.4" fill="#111"/>
<rect x="338.4" y="1157.5" width="2.3" height="2.5" fill="#111"/>
<rect x="338.4" y="1161.1" width="2.3" height="2.5" fill="#111"/>
<rect x="338.7" y="1159.1" width="1.6" height="3.0" fill="#111"/>
<rect x="338.2" y="1187.4" width="2.5" height="2.4" fill="#111"/>
<rect x="338.2" y="1183.6" width="2.5" height="2.4" fill="#111"/>
<rect x="338.2" y="1179.8" width="2.5" height="2.4" fill="#111"/>
<rect x="338.2" y="1176.1" width="2.5" height="2.4" fill="#111"/>
<rect x="347.9" y="1157.2" width="2.3" height="2.5" fill="#111"/>
<rect x="347.9" y="1160.8" width="2.3" height="2.5" fill="#111"/>
<rect x="348.2" y="1158.7" width="1.6" height="3.0" fill="#111"/>
<rect x="347.8" y="1187.0" width="2.5" height="2.4" fill="#111"/>
<rect x="347.8" y="1183.2" width="2.5" height="2.4" fill="#111"/>
<rect x="347.8" y="1179.4" width="2.5" height="2.4" fill="#111"/>
<rect x="347.8" y="1175.6" width="2.5" height="2.4" fill="#111"/>
<rect x="357.4" y="1156.8" width="2.3" height="2.5" fill="#111"/>
<rect x="357.4" y="1160.4" width="2.3" height="2.5" fill="#111"/>
<rect x="357.2" y="1186.5" width="2.5" height="2.4" fill="#111"/>
<rect x="357.2" y="1182.7" width="2.5" height="2.4" fill="#111"/>
<rect x="357.2" y="1178.9" width="2.5" height="2.4" fill="#111"/>
<rect x="357.2" y="1175.1" width="2.5" height="2.4" fill="#111"/>
<rect x="366.9" y="1156.5" width="2.3" height="2.5" fill="#111"/>
<rect x="366.9" y="1160.1" width="2.3" height="2.5" fill="#111"/>
<rect x="367.2" y="1158.0" width="1.6" height="3.0" fill="#111"/>
<rect x="366.8" y="1186.1" width="2.5" height="2.4" fill="#111"/>
<rect x="366.8" y="1182.3" width="2.5" height="2.4" fill="#111"/>
<rect x="366.8" y="1178.4" width="2.5" height="2.4" fill="#111"/>
<rect x="366.8" y="1174.6" width="2.5" height="2.4" fill="#111"/>
<rect x="376.4" y="1156.1" width="2.3" height="2.5" fill="#111"/>
<rect x="376.4" y="1159.7" width="2.3" height="2.5" fill="#111"/>
<rect x="376.7" y="1157.7" width="1.6" height="3.0" fill="#111"/>
<rect x="376.2" y="1185.7" width="2.5" height="2.4" fill="#111"/>
<rect x="376.2" y="1181.8" width="2.5" height="2.4" fill="#111"/>
<rect x="376.2" y="1177.9" width="2.5" height="2.4" fill="#111"/>
<rect x="376.2" y="1174.1" width="2.5" height="2.4" fill="#111"/>
<rect x="385.9" y="1155.8" width="2.3" height="2.5" fill="#111"/>
<rect x="385.9" y="1159.4" width="2.3" height="2.5" fill="#111"/>
<rect x="385.8" y="1185.2" width="2.5" height="2.4" fill="#111"/>
<rect x="385.8" y="1181.3" width="2.5" height="2.4" fill="#111"/>
<rect x="385.8" y="1177.5" width="2.5" height="2.4" fill="#111"/>
<rect x="385.8" y="1173.6" width="2.5" height="2.4" fill="#111"/>
<rect x="395.4" y="1155.4" width="2.3" height="2.5" fill="#111"/>
<rect x="395.4" y="1159.0" width="2.3" height="2.5" fill="#111"/>
<rect x="395.7" y="1157.0" width="1.6" height="3.0" fill="#111"/>
<rect x="395.2" y="1184.8" width="2.5" height="2.4" fill="#111"/>
<rect x="395.2" y="1180.9" width="2.5" height="2.4" fill="#111"/>
<rect x="395.2" y="1177.0" width="2.5" height="2.4" fill="#111"/>
<rect x="395.2" y="1173.1" width="2.5" height="2.4" fill="#111"/>
<rect x="405.5" y="1155.7" width="3.0" height="1.8" fill="#111"/>
<rect x="404.8" y="1184.4" width="2.5" height="2.4" fill="#111"/>
<rect x="404.8" y="1180.4" width="2.5" height="2.4" fill="#111"/>
<rect x="404.8" y="1176.5" width="2.5" height="2.4" fill="#111"/>
<rect x="404.8" y="1172.6" width="2.5" height="2.4" fill="#111"/>
<rect x="414.4" y="1154.7" width="2.3" height="2.5" fill="#111"/>
<rect x="414.4" y="1158.3" width="2.3" height="2.5" fill="#111"/>
<rect x="414.2" y="1183.9" width="2.5" height="2.4" fill="#111"/>
<rect x="414.2" y="1180.0" width="2.5" height="2.4" fill="#111"/>
<rect x="414.2" y="1176.0" width="2.5" height="2.4" fill="#111"/>
<rect x="414.2" y="1172.1" width="2.5" height="2.4" fill="#111"/>
<rect x="423.9" y="1154.4" width="2.3" height="2.5" fill="#111"/>
<rect x="423.9" y="1158.0" width="2.3" height="2.5" fill="#111"/>
<rect x="424.2" y="1155.9" width="1.6" height="3.0" fill="#111"/>
<rect x="423.8" y="1183.5" width="2.5" height="2.4" fill="#111"/>
<rect x="423.8" y="1179.5" width="2.5" height="2.4" fill="#111"/>
<rect x="423.8" y="1175.6" width="2.5" height="2.4" fill="#111"/>
<rect x="423.8" y="1171.6" width="2.5" height="2.4" fill="#111"/>
<rect x="433.4" y="1154.0" width="2.3" height="2.5" fill="#111"/>
<rect x="433.4" y="1157.6" width="2.3" height="2.5" fill="#111"/>
<rect x="433.7" y="1155.6" width="1.6" height="3.0" fill="#111"/>
<rect x="433.2" y="1183.1" width="2.5" height="2.4" fill="#111"/>
<rect x="433.2" y="1179.1" width="2.5" height="2.4" fill="#111"/>
<rect x="433.2" y="1175.1" width="2.5" height="2.4" fill="#111"/>
<rect x="433.2" y="1171.1" width="2.5" height="2.4" fill="#111"/>
<rect x="442.9" y="1153.7" width="2.3" height="2.5" fill="#111"/>
<rect x="442.9" y="1157.3" width="2.3" height="2.5" fill="#111"/>
<rect x="442.8" y="1182.7" width="2.5" height="2.4" fill="#111"/>
<rect x="442.8" y="1178.6" width="2.5" height="2.4" fill="#111"/>
<rect x="442.8" y="1174.6" width="2.5" height="2.4" fill="#111"/>
<rect x="442.8" y="1170.6" width="2.5" height="2.4" fill="#111"/>
<rect x="452.4" y="1153.3" width="2.3" height="2.5" fill="#111"/>
<rect x="452.4" y="1156.9" width="2.3" height="2.5" fill="#111"/>
<rect x="452.7" y="1154.9" width="1.6" height="3.0" fill="#111"/>
<rect x="452.2" y="1182.4" width="2.5" height="2.4" fill="#111"/>
<rect x="452.2" y="1178.2" width="2.5" height="2.4" fill="#111"/>
<rect x="452.2" y="1174.1" width="2.5" height="2.4" fill="#111"/>
<rect x="452.2" y="1170.0" width="2.5" height="2.4" fill="#111"/>
<rect x="461.9" y="1153.0" width="2.3" height="2.5" fill="#111"/>
<rect x="461.9" y="1156.6" width="2.3" height="2.5" fill="#111"/>
<rect x="462.2" y="1154.5" width="1.6" height="3.0" fill="#111"/>
<rect x="461.8" y="1182.0" width="2.5" height="2.4" fill="#111"/>
<rect x="461.8" y="1177.8" width="2.5" height="2.4" fill="#111"/>
<rect x="461.8" y="1173.6" width="2.5" height="2.4" fill="#111"/>
<rect x="461.8" y="1169.4" width="2.5" height="2.4" fill="#111"/>
<rect x="471.4" y="1152.6" width="2.3" height="2.5" fill="#111"/>
<rect x="471.4" y="1156.2" width="2.3" height="2.5" fill="#111"/>
<rect x="471.2" y="1181.7" width="2.5" height="2.4" fill="#111"/>
<rect x="471.2" y="1177.4" width="2.5" height="2.4" fill="#111"/>
<rect x="471.2" y="1173.1" width="2.5" height="2.4" fill="#111"/>
<rect x="471.2" y="1168.8" width="2.5" height="2.4" fill="#111"/>
<rect x="480.9" y="1152.3" width="2.3" height="2.5" fill="#111"/>
<rect x="480.9" y="1155.9" width="2.3" height="2.5" fill="#111"/>
<rect x="481.2" y="1153.8" width="1.6" height="3.0" fill="#111"/>
<rect x="480.8" y="1181.4" width="2.5" height="2.4" fill="#111"/>
<rect x="480.8" y="1177.0" width="2.5" height="2.4" fill="#111"/>
<rect x="480.8" y="1172.6" width="2.5" height="2.4" fill="#111"/>
<rect x="480.8" y="1168.2" width="2.5" height="2.4" fill="#111"/>
<rect x="490.4" y="1151.9" width="2.3" height="2.5" fill="#111"/>
<rect x="490.4" y="1155.5" width="2.3" height="2.5" fill="#111"/>
<rect x="490.7" y="1153.5" width="1.6" height="3.0" fill="#111"/>
<rect x="490.2" y="1181.1" width="2.5" height="2.4" fill="#111"/>
<rect x="490.2" y="1176.6" width="2.5" height="2.4" fill="#111"/>
<rect x="490.2" y="1172.1" width="2.5" height="2.4" fill="#111"/>
<rect x="490.2" y="1167.7" width="2.5" height="2.4" fill="#111"/>
<rect x="499.9" y="1151.6" width="2.3" height="2.5" fill="#111"/>
<rect x="499.9" y="1155.2" width="2.3" height="2.5" fill="#111"/>
<rect x="499.8" y="1180.7" width="2.5" height="2.4" fill="#111"/>
<rect x="499.8" y="1176.2" width="2.5" height="2.4" fill="#111"/>
<rect x="499.8" y="1171.6" width="2.5" height="2.4" fill="#111"/>
<rect x="499.8" y="1167.1" width="2.5" height="2.4" fill="#111"/>
<rect x="509.4" y="1151.3" width="2.3" height="2.5" fill="#111"/>
<rect x="509.4" y="1154.9" width="2.3" height="2.5" fill="#111"/>
<rect x="509.7" y="1152.8" width="1.6" height="3.0" fill="#111"/>
<rect x="509.2" y="1180.4" width="2.5" height="2.4" fill="#111"/>
<rect x="509.2" y="1175.8" width="2.5" height="2.4" fill="#111"/>
<rect x="509.2" y="1171.1" width="2.5" height="2.4" fill="#111"/>
<rect x="509.2" y="1166.5" width="2.5" height="2.4" fill="#111"/>
<rect x="518.9" y="1150.9" width="2.3" height="2.5" fill="#111"/>
<rect x="518.9" y="1154.5" width="2.3" height="2.5" fill="#111"/>
<rect x="519.2" y="1152.5" width="1.6" height="3.0" fill="#111"/>
<rect x="518.8" y="1180.1" width="2.5" height="2.4" fill="#111"/>
<rect x="518.8" y="1175.4" width="2.5" height="2.4" fill="#111"/>
<rect x="518.8" y="1170.6" width="2.5" height="2.4" fill="#111"/>
<rect x="518.8" y="1165.9" width="2.5" height="2.4" fill="#111"/>
<rect x="528.4" y="1150.6" width="2.3" height="2.5" fill="#111"/>
<rect x="528.4" y="1154.2" width="2.3" height="2.5" fill="#111"/>
<rect x="528.2" y="1179.8" width="2.5" height="2.4" fill="#111"/>
<rect x="528.2" y="1174.9" width="2.5" height="2.4" fill="#111"/>
<rect x="528.2" y="1170.1" width="2.5" height="2.4" fill="#111"/>
<rect x="528.2" y="1165.3" width="2.5" height="2.4" fill="#111"/>
<rect x="537.9" y="1150.2" width="2.3" height="2.5" fill="#111"/>
<rect x="537.9" y="1153.8" width="2.3" height="2.5" fill="#111"/>
<rect x="538.2" y="1151.8" width="1.6" height="3.0" fill="#111"/>
<rect x="538.0" y="1179.6" width="2.1" height="2.0" fill="#111"/>
<rect x="538.0" y="1174.7" width="2.1" height="2.0" fill="#111"/>
<rect x="538.0" y="1169.8" width="2.1" height="2.0" fill="#111"/>
<rect x="538.0" y="1164.9" width="2.1" height="2.0" fill="#111"/>
<rect x="547.4" y="1149.9" width="2.3" height="2.5" fill="#111"/>
<rect x="547.4" y="1153.5" width="2.3" height="2.5" fill="#111"/>
<rect x="547.7" y="1151.4" width="1.6" height="3.0" fill="#111"/>
<rect x="547.5" y="1179.3" width="2.1" height="2.0" fill="#111"/>
<rect x="547.5" y="1174.3" width="2.1" height="2.0" fill="#111"/>
<rect x="547.5" y="1169.3" width="2.1" height="2.0" fill="#111"/>
<rect x="547.5" y="1164.3" width="2.1" height="2.0" fill="#111"/>
<rect x="556.9" y="1149.5" width="2.3" height="2.5" fill="#111"/>
<rect x="556.9" y="1153.1" width="2.3" height="2.5" fill="#111"/>
<rect x="557.0" y="1179.0" width="2.1" height="2.0" fill="#111"/>
<rect x="557.0" y="1173.9" width="2.1" height="2.0" fill="#111"/>
<rect x="557.0" y="1168.8" width="2.1" height="2.0" fill="#111"/>
<rect x="557.2" y="1164.0" width="1.5" height="1.4" fill="#666"/>
<rect x="566.4" y="1149.2" width="2.3" height="2.5" fill="#111"/>
<rect x="566.4" y="1152.8" width="2.3" height="2.5" fill="#111"/>
<rect x="566.7" y="1150.7" width="1.6" height="3.0" fill="#111"/>
<rect x="566.5" y="1178.7" width="2.1" height="2.0" fill="#111"/>
<rect x="566.5" y="1173.5" width="2.1" height="2.0" fill="#111"/>
<rect x="566.5" y="1168.3" width="2.1" height="2.0" fill="#111"/>
<rect x="566.8" y="1163.5" width="1.5" height="1.4" fill="#666"/>
<rect x="575.9" y="1148.8" width="2.3" height="2.5" fill="#111"/>
<rect x="575.9" y="1152.4" width="2.3" height="2.5" fill="#111"/>
<rect x="576.2" y="1150.4" width="1.6" height="3.0" fill="#111"/>
<rect x="576.0" y="1178.3" width="2.1" height="2.0" fill="#111"/>
<rect x="576.0" y="1173.1" width="2.1" height="2.0" fill="#111"/>
<rect x="576.0" y="1167.8" width="2.1" height="2.0" fill="#111"/>
<rect x="576.2" y="1162.9" width="1.5" height="1.4" fill="#666"/>
<rect x="585.4" y="1149.0" width="2.2" height="2.0" fill="#111"/>
<rect x="585.5" y="1178.0" width="2.1" height="2.0" fill="#111"/>
<rect x="585.5" y="1172.7" width="2.1" height="2.0" fill="#111"/>
<rect x="585.5" y="1167.3" width="2.1" height="2.0" fill="#111"/>
<rect x="585.8" y="1162.3" width="1.5" height="1.4" fill="#666"/>
<rect x="594.9" y="1148.2" width="2.2" height="2.0" fill="#111"/>
<rect x="595.0" y="1177.7" width="2.1" height="2.0" fill="#111"/>
<rect x="595.0" y="1172.3" width="2.1" height="2.0" fill="#111"/>
<rect x="595.0" y="1166.8" width="2.1" height="2.0" fill="#111"/>
<rect x="595.2" y="1161.7" width="1.5" height="1.4" fill="#666"/>
<rect x="604.4" y="1147.5" width="2.2" height="2.0" fill="#111"/>
<rect x="604.5" y="1177.4" width="2.1" height="2.0" fill="#111"/>
<rect x="604.5" y="1171.9" width="2.1" height="2.0" fill="#111"/>
<rect x="604.5" y="1166.4" width="2.1" height="2.0" fill="#111"/>
<rect x="604.8" y="1161.1" width="1.5" height="1.4" fill="#666"/>
<rect x="613.9" y="1146.7" width="2.2" height="2.0" fill="#111"/>
<rect x="614.0" y="1177.0" width="2.1" height="2.0" fill="#111"/>
<rect x="614.0" y="1171.4" width="2.1" height="2.0" fill="#111"/>
<rect x="614.0" y="1165.9" width="2.1" height="2.0" fill="#111"/>
<rect x="614.2" y="1160.5" width="1.5" height="1.4" fill="#666"/>
<rect x="289.8" y="1174.7" width="3.0" height="2.6" fill="#111"/>
<rect x="289.8" y="1178.3" width="3.0" height="2.6" fill="#111"/>
<rect x="289.8" y="1181.9" width="3.0" height="2.6" fill="#111"/>
<rect x="289.8" y="1185.5" width="3.0" height="2.6" fill="#111"/>
<rect x="289.8" y="1189.1" width="3.0" height="2.6" fill="#111"/>
<line x1="290.0" y1="1192.6" x2="470.0" y2="1185.2" stroke="#111" stroke-width="1.60" />
<text x="274.3" y="697.5" font-size="14.0" text-anchor="end" font-family="'Liberation Sans', sans-serif" fill="#111" stroke="#111" stroke-width="0.35" textLength="20.5" lengthAdjust="spacingAndGlyphs">6.0</text>
<text x="274.3" y="779.0" font-size="14.0" text-anchor="end" font-family="'Liberation Sans', sans-serif" fill="#111" stroke="#111" stroke-width="0.35" textLength="20.5" lengthAdjust="spacingAndGlyphs">5.5</text>
<text x="274.3" y="860.5" font-size="14.0" text-anchor="end" font-family="'Liberation Sans', sans-serif" fill="#111" stroke="#111" stroke-width="0.35" textLength="20.5" lengthAdjust="spacingAndGlyphs">5.0</text>
<text x="274.3" y="942.0" font-size="14.0" text-anchor="end" font-family="'Liberation Sans', sans-serif" fill="#111" stroke="#111" stroke-width="0.35" textLength="20.5" lengthAdjust="spacingAndGlyphs">4.5</text>
<text x="274.3" y="1022.0" font-size="14.0" text-anchor="end" font-family="'Liberation Sans', sans-serif" fill="#111" stroke="#111" stroke-width="0.35" textLength="20.5" lengthAdjust="spacingAndGlyphs">4.0</text>
<text x="274.3" y="1104.0" font-size="14.0" text-anchor="end" font-family="'Liberation Sans', sans-serif" fill="#111" stroke="#111" stroke-width="0.35" textLength="20.5" lengthAdjust="spacingAndGlyphs">3.5</text>
<text x="274.3" y="1181.5" font-size="14.0" text-anchor="end" font-family="'Liberation Sans', sans-serif" fill="#111" stroke="#111" stroke-width="0.35" textLength="20.5" lengthAdjust="spacingAndGlyphs">3.0</text>
<text x="306.0" y="1210.5" font-size="14.0" text-anchor="middle" font-family="'Liberation Sans', sans-serif" fill="#111" stroke="#111" stroke-width="0.35" textLength="7.3" lengthAdjust="spacingAndGlyphs">0</text>
<text x="373.0" y="1207.2" font-size="14.0" text-anchor="middle" font-family="'Liberation Sans', sans-serif" fill="#111" stroke="#111" stroke-width="0.35" textLength="14.6" lengthAdjust="spacingAndGlyphs">20</text>
<text x="439.5" y="1204.2" font-size="14.0" text-anchor="middle" font-family="'Liberation Sans', sans-serif" fill="#111" stroke="#111" stroke-width="0.35" textLength="14.6" lengthAdjust="spacingAndGlyphs">40</text>
<text x="504.0" y="1202.6" font-size="14.0" text-anchor="middle" font-family="'Liberation Sans', sans-serif" fill="#111" stroke="#111" stroke-width="0.35" textLength="14.6" lengthAdjust="spacingAndGlyphs">60</text>
<text x="568.3" y="1199.6" font-size="14.0" text-anchor="middle" font-family="'Liberation Sans', sans-serif" fill="#111" stroke="#111" stroke-width="0.35" textLength="14.6" lengthAdjust="spacingAndGlyphs">80</text>
<text x="617.0" y="1196.3" font-size="14.0" text-anchor="middle" font-family="'Liberation Sans', sans-serif" fill="#111" stroke="#111" stroke-width="0.35" textLength="19.0" lengthAdjust="spacingAndGlyphs">100</text>
<text x="0.0" y="0.0" font-size="12.8" text-anchor="middle" font-family="'Liberation Sans', sans-serif" fill="#111" stroke="#111" stroke-width="0.35" transform="translate(237.6,965.5) rotate(-90)" letter-spacing="1.45">Frequency (MHz)</text>
<text x="457.0" y="1225.0" font-size="13.3" text-anchor="middle" font-family="'Liberation Sans', sans-serif" fill="#111" stroke="#111" stroke-width="0.35" transform="rotate(-1.3 457 1224)" letter-spacing="1.0">Angle (Degrees)</text>
<text x="443.0" y="1253.0" font-size="11.5" text-anchor="middle" font-family="'Liberation Sans', sans-serif" fill="#111" stroke="#111" stroke-width="0.30" font-style="italic">(b)</text>
<g font-family="'Liberation Serif', serif" fill="#111" stroke="#111" stroke-width="0.95" stroke-linejoin="round">
<text font-size="16.3" font-weight="bold" transform="translate(95.02 1282.14) rotate(4.85)" x="-24.22" y="0" textLength="48.43" lengthAdjust="spacingAndGlyphs">Figure</text>
<text font-size="16.3" font-weight="bold" transform="translate(137.12 1285.07) rotate(2.75)" x="-13.38" y="0" textLength="26.75" lengthAdjust="spacingAndGlyphs">6.17</text>
<text font-size="16.3" transform="translate(199.55 1286.17) rotate(-0.31)" x="-30.55" y="0" textLength="61.11" lengthAdjust="spacingAndGlyphs">Angular</text>
<text font-size="16.3" transform="translate(278.81 1285.11) rotate(-1.45)" x="-43.81" y="0" textLength="87.63" lengthAdjust="spacingAndGlyphs">dependence</text>
<text font-size="16.3" transform="translate(336.46 1284.01) rotate(-1.74)" x="-8.96" y="0" textLength="17.92" lengthAdjust="spacingAndGlyphs">of</text>
<text font-size="10.5" transform="translate(357.75 1276.79) rotate(-2.77)" x="-6.45" y="0" textLength="12.90" lengthAdjust="spacingAndGlyphs">29</text>
<text font-size="16.3" transform="translate(372.61 1282.27) rotate(-2.58)" x="-7.61" y="0" textLength="15.21" lengthAdjust="spacingAndGlyphs">Si</text>
<text font-size="16.3" transform="translate(417.52 1280.41) rotate(-2.21)" x="-32.52" y="0" textLength="65.04" lengthAdjust="spacingAndGlyphs">ENDOR</text>
<text font-size="16.3" transform="translate(472.56 1278.34) rotate(-2.97)" x="-17.56" y="0" textLength="35.12" lengthAdjust="spacingAndGlyphs">lines</text>
<text font-size="16.3" transform="translate(503.17 1276.41) rotate(-3.65)" x="-8.17" y="0" textLength="16.35" lengthAdjust="spacingAndGlyphs">of</text>
<text font-size="16.3" transform="translate(527.09 1274.89) rotate(-3.38)" x="-10.59" y="0" textLength="21.19" lengthAdjust="spacingAndGlyphs">Te</text>
<text font-size="11.0" transform="translate(545.09 1267.90) rotate(-3.12)" x="-4.09" y="0" textLength="8.19" lengthAdjust="spacingAndGlyphs">+</text>
<text font-size="16.3" transform="translate(579.98 1272.00) rotate(-2.58)" x="-24.98" y="0" textLength="49.97" lengthAdjust="spacingAndGlyphs">defects</text>
<text font-size="16.3" transform="translate(617.45 1270.66) rotate(-2.05)" x="-7.85" y="0" textLength="15.70" lengthAdjust="spacingAndGlyphs">in</text>
<text font-size="16.3" transform="translate(638.05 1269.93) rotate(-1.96)" x="-7.45" y="0" textLength="14.91" lengthAdjust="spacingAndGlyphs">Si</text>
<text font-size="16.3" transform="translate(661.63 1269.25) rotate(-1.33)" x="-11.43" y="0" textLength="22.86" lengthAdjust="spacingAndGlyphs">for</text>
<text font-size="16.3" transform="translate(707.25 1268.26) rotate(-1.20)" x="-29.05" y="0" textLength="58.10" lengthAdjust="spacingAndGlyphs">rotation</text>
<text font-size="16.3" transform="translate(749.72 1267.41) rotate(-1.15)" x="-8.52" y="0" textLength="17.03" lengthAdjust="spacingAndGlyphs">of</text>
<text font-size="16.3" transform="translate(774.95 1266.90) rotate(-1.15)" x="-11.35" y="0" textLength="22.70" lengthAdjust="spacingAndGlyphs">the</text>
<text font-size="16.3" transform="translate(104.68 1304.91) rotate(4.22)" x="-34.18" y="0" textLength="68.35" lengthAdjust="spacingAndGlyphs">magnetic</text>
<text font-size="16.3" transform="translate(157.64 1307.56) rotate(1.68)" x="-13.89" y="0" textLength="27.77" lengthAdjust="spacingAndGlyphs">field</text>
<text font-size="16.3" transform="translate(182.32 1308.01) rotate(0.06)" x="-6.82" y="0" textLength="13.65" lengthAdjust="spacingAndGlyphs">in</text>
<text font-size="16.3" transform="translate(198.07 1307.87) rotate(-0.49)" x="-4.32" y="0" textLength="8.64" lengthAdjust="spacingAndGlyphs">a</text>
<text font-size="16.3" transform="translate(226.97 1307.62) rotate(-0.75)" x="-19.47" y="0" textLength="38.95" lengthAdjust="spacingAndGlyphs">(110)</text>
<text font-size="16.3" transform="translate(272.58 1306.75) rotate(-1.49)" x="-21.33" y="0" textLength="42.67" lengthAdjust="spacingAndGlyphs">plane;</text>
<text font-size="16.3" transform="translate(307.31 1305.76) rotate(-1.18)" x="-8.81" y="0" textLength="17.61" lengthAdjust="spacingAndGlyphs">0°</text>
<text font-size="16.3" transform="translate(326.37 1305.44) rotate(-1.25)" x="-5.12" y="0" textLength="10.24" lengthAdjust="spacingAndGlyphs">=</text>
<text font-size="16.3" transform="translate(359.88 1304.08) rotate(-2.92)" x="-23.62" y="0" textLength="47.25" lengthAdjust="spacingAndGlyphs">〈100〉.</text>
<text font-size="16.3" transform="translate(403.19 1302.05) rotate(-2.54)" x="-14.44" y="0" textLength="28.87" lengthAdjust="spacingAndGlyphs">The</text>
<text font-size="16.3" transform="translate(440.12 1300.58) rotate(-2.11)" x="-17.62" y="0" textLength="35.24" lengthAdjust="spacingAndGlyphs">solid</text>
<text font-size="16.3" transform="translate(477.86 1298.97) rotate(-3.27)" x="-15.36" y="0" textLength="30.73" lengthAdjust="spacingAndGlyphs">lines</text>
<text font-size="16.3" transform="translate(509.64 1296.95) rotate(-3.71)" x="-12.14" y="0" textLength="24.28" lengthAdjust="spacingAndGlyphs">are</text>
<text font-size="16.3" transform="translate(538.52 1295.20) rotate(-3.18)" x="-11.52" y="0" textLength="23.05" lengthAdjust="spacingAndGlyphs">the</text>
<text font-size="16.3" transform="translate(591.16 1292.51) rotate(-2.21)" x="-36.16" y="0" textLength="72.32" lengthAdjust="spacingAndGlyphs">calculated</text>
<text font-size="16.3" transform="translate(657.75 1290.20) rotate(-1.47)" x="-25.75" y="0" textLength="51.49" lengthAdjust="spacingAndGlyphs">angular</text>
<text font-size="16.3" transform="translate(737.10 1288.48) rotate(-1.18)" x="-49.10" y="0" textLength="98.20" lengthAdjust="spacingAndGlyphs">dependencies</text>
<text font-size="16.3" transform="translate(88.13 1325.59) rotate(4.82)" x="-16.88" y="0" textLength="33.76" lengthAdjust="spacingAndGlyphs">with</text>
<text font-size="16.3" transform="translate(120.80 1327.91) rotate(3.51)" x="-10.80" y="0" textLength="21.61" lengthAdjust="spacingAndGlyphs">the</text>
<text font-size="16.3" transform="translate(179.53 1329.79) rotate(0.08)" x="-43.28" y="0" textLength="86.57" lengthAdjust="spacingAndGlyphs">parameters</text>
<text font-size="16.3" transform="translate(236.84 1329.04) rotate(-1.14)" x="-8.84" y="0" textLength="17.68" lengthAdjust="spacingAndGlyphs">of</text>
<text font-size="16.3" transform="translate(271.02 1328.26) rotate(-1.63)" x="-19.77" y="0" textLength="39.55" lengthAdjust="spacingAndGlyphs">Table</text>
<text font-size="16.3" transform="translate(308.59 1327.09) rotate(-1.32)" x="-13.09" y="0" textLength="26.17" lengthAdjust="spacingAndGlyphs">6.4.</text>
<text font-size="16.3" transform="translate(362.00 1325.15) rotate(-3.08)" x="-35.75" y="0" textLength="71.49" lengthAdjust="spacingAndGlyphs">Reprinted</text>
<text font-size="16.3" transform="translate(419.93 1322.32) rotate(-2.40)" x="-17.43" y="0" textLength="34.85" lengthAdjust="spacingAndGlyphs">with</text>
<text font-size="16.3" transform="translate(482.37 1319.65) rotate(-3.53)" x="-39.87" y="0" textLength="79.73" lengthAdjust="spacingAndGlyphs">permission</text>
<text font-size="16.3" transform="translate(545.50 1315.74) rotate(-3.18)" x="-18.50" y="0" textLength="37.00" lengthAdjust="spacingAndGlyphs">from</text>
<text font-size="16.3" font-style="italic" transform="translate(586.38 1313.59) rotate(-2.42)" x="-17.38" y="0" textLength="34.76" lengthAdjust="spacingAndGlyphs">Solid</text>
<text font-size="16.3" font-style="italic" transform="translate(627.38 1312.08) rotate(-2.11)" x="-19.18" y="0" textLength="38.36" lengthAdjust="spacingAndGlyphs">State</text>
<text font-size="16.3" font-style="italic" transform="translate(685.16 1310.45) rotate(-1.30)" x="-33.56" y="0" textLength="67.11" lengthAdjust="spacingAndGlyphs">Commun.,</text>
<text font-size="16.3" font-weight="bold" transform="translate(735.73 1309.34) rotate(-1.21)" x="-12.73" y="0" textLength="25.45" lengthAdjust="spacingAndGlyphs">46,</text>
<text font-size="16.3" transform="translate(760.25 1308.82) rotate(-1.21)" x="-6.45" y="0" textLength="12.90" lengthAdjust="spacingAndGlyphs">J.</text>
<text font-size="16.3" transform="translate(779.70 1308.41) rotate(-1.19)" x="-7.70" y="0" textLength="15.40" lengthAdjust="spacingAndGlyphs">R.</text>
<text font-size="16.3" transform="translate(94.35 1348.15) rotate(4.35)" x="-22.35" y="0" textLength="44.71" lengthAdjust="spacingAndGlyphs">Niklas</text>
<text font-size="16.3" transform="translate(134.40 1350.66) rotate(2.39)" x="-13.20" y="0" textLength="26.40" lengthAdjust="spacingAndGlyphs">and</text>
<text font-size="16.3" transform="translate(171.61 1351.54) rotate(0.48)" x="-19.21" y="0" textLength="38.42" lengthAdjust="spacingAndGlyphs">J.-M.</text>
<text font-size="16.3" transform="translate(223.17 1350.90) rotate(-1.03)" x="-27.57" y="0" textLength="55.13" lengthAdjust="spacingAndGlyphs">Spaeth,</text>
<text font-size="16.3" transform="translate(291.03 1348.98) rotate(-2.00)" x="-35.43" y="0" textLength="70.87" lengthAdjust="spacingAndGlyphs">“ENDOR</text>
<text font-size="16.3" transform="translate(380.64 1345.31) rotate(-3.02)" x="-49.39" y="0" textLength="98.78" lengthAdjust="spacingAndGlyphs">Investigation</text>
<text font-size="16.3" transform="translate(442.60 1342.46) rotate(-2.18)" x="-7.60" y="0" textLength="15.21" lengthAdjust="spacingAndGlyphs">of</text>
<text font-size="16.3" transform="translate(490.06 1340.12) rotate(-3.69)" x="-35.06" y="0" textLength="70.12" lengthAdjust="spacingAndGlyphs">Tellurium</text>
<text font-size="16.3" transform="translate(556.79 1336.04) rotate(-3.22)" x="-26.99" y="0" textLength="53.99" lengthAdjust="spacingAndGlyphs">Donors</text>
<text font-size="16.3" transform="translate(595.93 1334.14) rotate(-2.14)" x="-7.33" y="0" textLength="14.65" lengthAdjust="spacingAndGlyphs">in</text>
<text font-size="16.3" transform="translate(638.17 1332.56) rotate(-2.05)" x="-29.97" y="0" textLength="59.94" lengthAdjust="spacingAndGlyphs">Silicon,”</text>
<text font-size="16.3" transform="translate(708.76 1330.75) rotate(-1.29)" x="-36.16" y="0" textLength="72.32" lengthAdjust="spacingAndGlyphs">Copyright</text>
<text font-size="16.3" transform="translate(768.95 1329.45) rotate(-1.24)" x="-19.35" y="0" textLength="38.70" lengthAdjust="spacingAndGlyphs">1983,</text>
<text font-size="16.3" transform="translate(108.35 1371.10) rotate(3.51)" x="-36.85" y="0" textLength="73.71" lengthAdjust="spacingAndGlyphs">Pergamon</text>
<text font-size="16.3" transform="translate(184.10 1373.22) rotate(-0.61)" x="-34.10" y="0" textLength="68.20" lengthAdjust="spacingAndGlyphs">Journals,</text>
<text font-size="16.3" transform="translate(238.20 1372.16) rotate(-1.53)" x="-15.00" y="0" textLength="30.00" lengthAdjust="spacingAndGlyphs">Ltd.</text>
</g>
<text x="788.0" y="1383.8" font-size="18.0" text-anchor="end" font-family="'Liberation Sans', sans-serif" fill="#111" stroke="#111" stroke-width="0.20" font-weight="bold">459</text>
</svg>
</body></html>
